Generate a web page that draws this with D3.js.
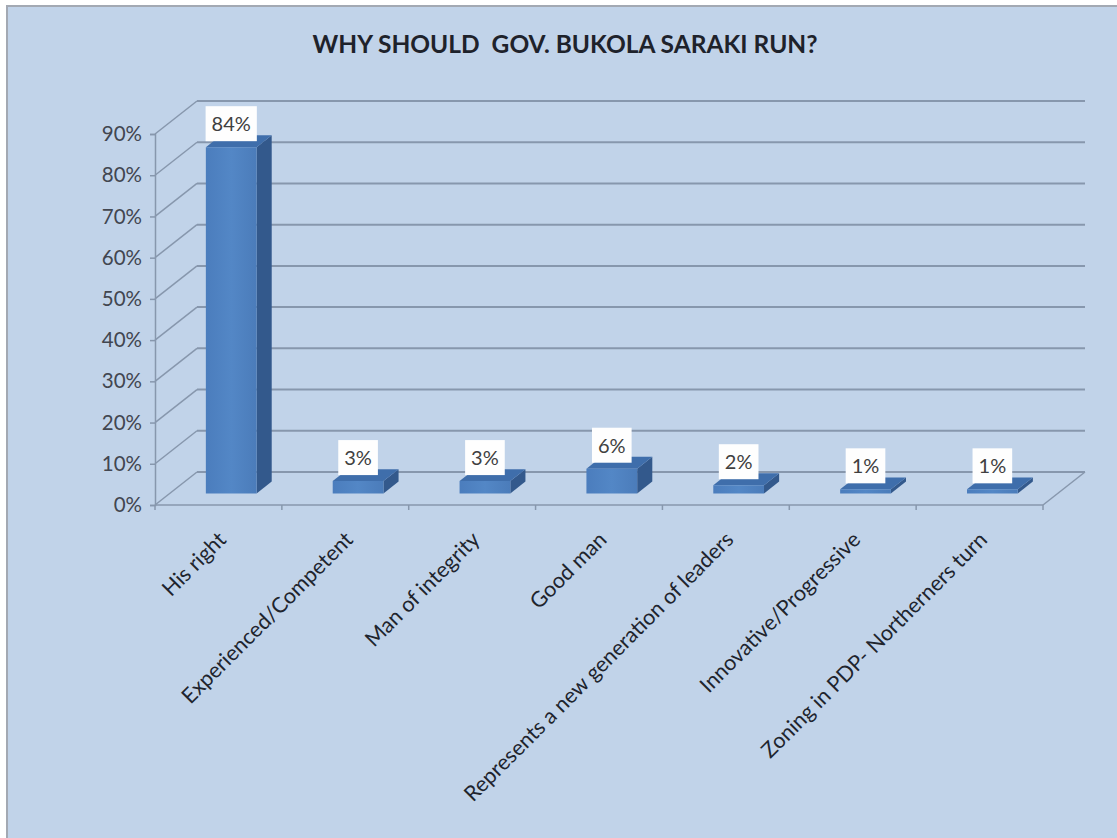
<!DOCTYPE html>
<html>
<head>
<meta charset="utf-8">
<script src="https://cdn.jsdelivr.net/npm/d3@7/dist/d3.min.js"></script>
<style>
  html, body { margin: 0; padding: 0; background: #ffffff; }
  svg { display: block; }
</style>
</head>
<body>
<svg id="chart" width="1117" height="838"></svg>
<script>
// Survey answers and their shares
const categories = [
  "His right",
  "Experienced/Competent",
  "Man of integrity",
  "Good man",
  "Represents a new generation of leaders",
  "Innovative/Progressive",
  "Zoning in PDP- Northerners turn"
];
const values = [0.84, 0.03, 0.03, 0.06, 0.02, 0.01, 0.01];
const valueLabels = ["84%", "3%", "3%", "6%", "2%", "1%", "1%"];
const yTicks = [0, 0.1, 0.2, 0.3, 0.4, 0.5, 0.6, 0.7, 0.8, 0.9];
const yTickLabels = ["0%", "10%", "20%", "30%", "40%", "50%", "60%", "70%", "80%", "90%"];
const title = "WHY SHOULD  GOV. BUKOLA SARAKI RUN?";

const W = 1117, H = 838;
const svg = d3.select("#chart");

// chart frame
svg.append("rect")
  .attr("x", 7).attr("y", 6).attr("width", W + 10).attr("height", H + 10)
  .attr("fill", "#c1d3e9").attr("stroke", "#a3a9b3").attr("stroke-width", 2);

// front plane geometry and the 3D depth offset
const left = 155, right = 1043, floorY = 505;
const DX = 42, DY = -33;
const x = d3.scaleBand().domain(categories).range([left, right]).paddingInner(0).paddingOuter(0);
const y = d3.scaleLinear().domain([0, 0.9]).range([floorY, 134]);
const P = (px, py, f) => [px + f * DX, py + f * DY];
const poly = pts => pts.map(p => p.join(",")).join(" ");

const gridColor = "#8797ad";
const g = svg.append("g");

// back wall gridlines and left wall diagonals
yTicks.forEach(t => {
  const a = P(left, y(t), 1), b = P(right, y(t), 1);
  g.append("line").attr("x1", a[0]).attr("y1", a[1]).attr("x2", b[0]).attr("y2", b[1])
    .attr("stroke", gridColor).attr("stroke-width", 2);
  g.append("line").attr("x1", left).attr("y1", y(t)).attr("x2", a[0]).attr("y2", a[1])
    .attr("stroke", gridColor).attr("stroke-width", 1.5);
});

// floor edges
const fr = P(right, floorY, 1);
g.append("line").attr("x1", left).attr("y1", floorY).attr("x2", right).attr("y2", floorY)
  .attr("stroke", gridColor).attr("stroke-width", 1.5);
g.append("line").attr("x1", right).attr("y1", floorY).attr("x2", fr[0]).attr("y2", fr[1])
  .attr("stroke", gridColor).attr("stroke-width", 1.5);

// vertical value axis
const yAxis = d3.axisLeft(y).tickValues(yTicks).tickSize(5).tickPadding(8)
  .tickFormat((d, i) => yTickLabels[i]);
const ya = svg.append("g").attr("transform", `translate(${left},0)`).call(yAxis);
ya.select(".domain").attr("stroke", gridColor).attr("stroke-width", 1.5);
ya.selectAll(".tick line").attr("stroke", gridColor).attr("stroke-width", 1.5);
ya.selectAll(".tick text")
  .attr("font-family", "Lato, 'Open Sans', sans-serif").attr("font-size", 20.5)
  .attr("fill", "#424650");

// category tick marks on the front floor edge
const bounds = categories.map(c => x(c)).concat([right]);
svg.append("g").selectAll("line").data(bounds).join("line")
  .attr("x1", d => d).attr("x2", d => d).attr("y1", floorY).attr("y2", floorY + 5)
  .attr("stroke", gridColor).attr("stroke-width", 1.5);

// bars as boxes sitting in the middle of the depth
const f1 = 0.35, f2 = 0.71;
const bw = x.bandwidth();
const barOff = bw * 0.285, barW = bw * 0.40;

const defs = svg.append("defs");
const grad = defs.append("linearGradient").attr("id", "front").attr("x1", 0).attr("x2", 1).attr("y1", 0).attr("y2", 0);
grad.append("stop").attr("offset", 0).attr("stop-color", "#4b7dbd");
grad.append("stop").attr("offset", 0.5).attr("stop-color", "#5387c6");
grad.append("stop").attr("offset", 1).attr("stop-color", "#4b7cba");

const bars = svg.append("g");
categories.forEach((c, i) => {
  const v = values[i];
  const x0 = x(c) + barOff, x1 = x0 + barW;
  const yb = y(0), yt = y(v);
  const A = P(x0, yb, f1), B = P(x1, yb, f1), C = P(x1, yt, f1), D = P(x0, yt, f1);
  const B2 = P(x1, yb, f2), C2 = P(x1, yt, f2), D2 = P(x0, yt, f2);
  // side face
  bars.append("polygon").attr("points", poly([B, B2, C2, C])).attr("fill", "#33598c");
  // top face
  bars.append("polygon").attr("points", poly([D, C, C2, D2])).attr("fill", "#3f6eab");
  // front face
  bars.append("polygon").attr("points", poly([A, B, C, D])).attr("fill", "url(#front)");

  // value label box
  const cx = (A[0] + B[0]) / 2;
  const lg = svg.append("g");
  const t = lg.append("text").text(valueLabels[i])
    .attr("x", cx).attr("y", D[1] - 6 - 10)
    .attr("text-anchor", "middle")
    .attr("font-family", "Lato, 'Open Sans', sans-serif").attr("font-size", 20)
    .attr("fill", "#404040");
  const bb = t.node().getBBox();
  lg.insert("rect", "text")
    .attr("x", bb.x - 6).attr("y", D[1] - 6 - 35)
    .attr("width", bb.width + 12).attr("height", 35)
    .attr("fill", "#fefefe");
});

// rotated category labels
svg.append("g").selectAll("text").data(categories).join("text")
  .attr("transform", d => `translate(${x(d) + bw / 2 + 9},${floorY + 36}) rotate(-45)`)
  .attr("text-anchor", "end")
  .attr("font-family", "Lato, 'Open Sans', sans-serif").attr("font-size", 21.5)
  .attr("fill", "#20242d")
  .text(d => d);

// title
svg.append("text")
  .attr("x", 565).attr("y", 53)
  .attr("text-anchor", "middle")
  .style("white-space", "pre")
  .attr("font-family", "Lato, 'Open Sans', sans-serif").attr("font-weight", "bold")
  .attr("font-size", 25)
  .attr("textLength", 505).attr("lengthAdjust", "spacingAndGlyphs")
  .attr("fill", "#1e222b")
  .text(title);
</script>
</body>
</html>
